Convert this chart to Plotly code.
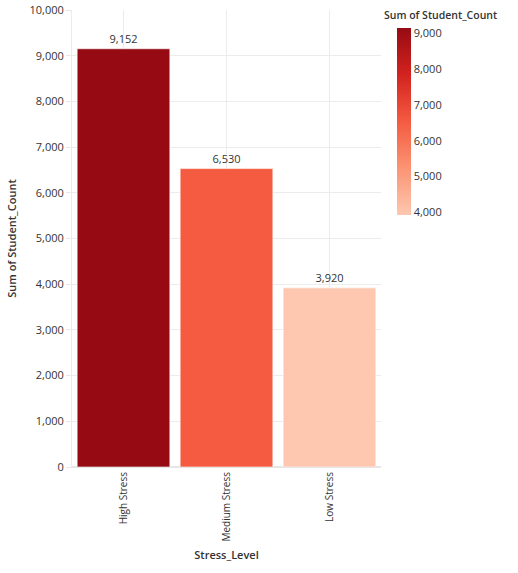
import plotly.graph_objects as go

categories = ["High Stress", "Medium Stress", "Low Stress"]
student_count = [9152, 6530, 3920]
y_ticks = [0, 1000, 2000, 3000, 4000, 5000, 6000, 7000, 8000, 9000, 10000]
cb_ticks = [4000, 5000, 6000, 7000, 8000, 9000]

colorscale = [
    [0.0, "#fdc7b0"],
    [0.25, "#fb9474"],
    [0.5, "#f45b41"],
    [0.75, "#d3231f"],
    [1.0, "#960b13"],
]

FONT = "Open Sans, sans-serif"
TXT = "#333333"
PW = 309  # plot width in px

fig = go.Figure(
    go.Bar(
        x=categories,
        y=student_count,
        text=[f"{v:,}" for v in student_count],
        textposition="outside",
        textfont=dict(size=11, color=TXT, family=FONT),
        cliponaxis=False,
        marker=dict(
            color=student_count,
            colorscale=colorscale,
            cmin=min(student_count),
            cmax=max(student_count),
            line=dict(color="rgba(255,255,255,0.6)", width=1),
            colorbar=dict(
                thickness=14,
                len=187 / 457,
                lenmode="fraction",
                x=(397 - 72) / PW,
                xanchor="left",
                y=(467 - 28) / 457,
                yanchor="top",
                tickvals=cb_ticks,
                tickformat=",",
                ticks="",
                outlinewidth=0,
                tickfont=dict(size=11, color=TXT, family=FONT),
                ypad=0,
                xpad=0,
            ),
        ),
        hoverinfo="x+y",
    )
)

fig.add_annotation(
    text="Sum of Student_Count",
    xref="paper", yref="paper",
    x=(382 - 72) / PW, y=(467 - 15) / 457,
    xanchor="left", yanchor="middle",
    showarrow=False,
    font=dict(size=10.5, color=TXT, family=FONT, weight=600),
)

fig.update_layout(
    width=518,
    height=573,
    margin=dict(l=72, r=518 - 72 - PW, t=10, b=106, autoexpand=False),
    paper_bgcolor="white",
    plot_bgcolor="white",
    bargap=0.1,
    font=dict(family=FONT, size=11, color=TXT),
    showlegend=False,
)
fig.update_xaxes(
    title=dict(text="Stress_Level", font=dict(size=11, color=TXT, weight=600), standoff=10),
    tickangle=-90,
    tickfont=dict(size=10, color=TXT),
    showgrid=True,
    gridcolor="#ececec",
    showline=True,
    linecolor="#e6e6e6",
    ticks="",
    automargin=False,
)
fig.update_yaxes(
    title=dict(text="Sum of Student_Count", font=dict(size=11, color=TXT, weight=600), standoff=10),
    range=[0, 10000],
    tickvals=y_ticks,
    tickformat=",",
    tickfont=dict(size=11, color=TXT),
    showgrid=True,
    gridcolor="#ececec",
    zeroline=True,
    zerolinecolor="#e6e6e6",
    showline=True,
    linecolor="#ececec",
    ticks="outside",
    ticklen=5,
    tickcolor="#e6e6e6",
    automargin=False,
)

fig.write_html(
    "out.html",
    config={"displayModeBar": False},
    post_script="document.body.style.margin='0';",
)
